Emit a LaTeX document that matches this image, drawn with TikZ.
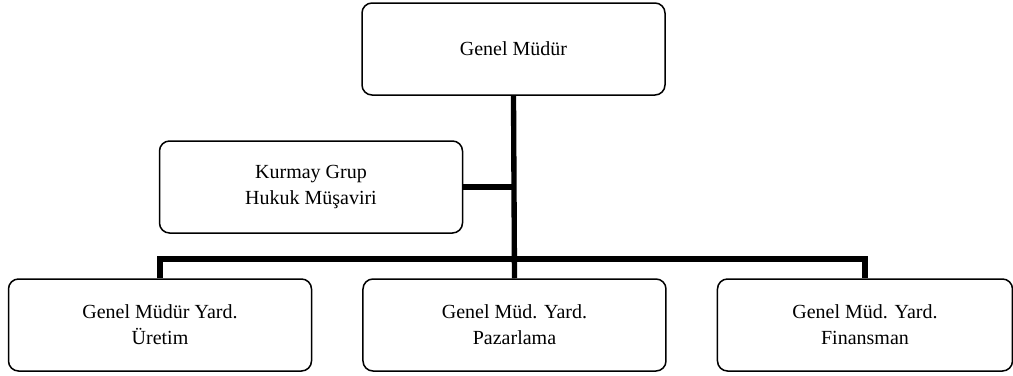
\documentclass[tikz,border=0pt]{standalone}
\usepackage{fontspec}
\setmainfont{Liberation Serif}
\usetikzlibrary{positioning}

\begin{document}
\begin{tikzpicture}[x=0.6pt,y=-0.6pt,node distance=30pt]
  \tikzstyle{unit}=[draw,line width=0.9pt,rounded corners=6pt,
    minimum width=181.8pt,minimum height=55.2pt,align=center,
    font=\fontsize{12}{15.5}\selectfont]
  \tikzstyle{link}=[line width=3.2pt]
  \useasboundingbox (0,0) rectangle (1013,376);
  \node[unit] (gm) at (513.5,49) {Genel Müdür};
  \node[unit] (staff) at (311,187) {Kurmay Grup\\Hukuk Müşaviri};
  \node[unit] (prod) at (160,325) {Genel Müdür Yard.\\Üretim};
  \node[unit,right=of prod] (mkt) {Genel Müd. Yard.\\Pazarlama};
  \node[unit,right=of mkt,minimum width=177pt] (fin) {Genel Müd. Yard.\\Finansman};
  \coordinate (bar) at (513.5,259);
  \draw[link] (gm.south) -- (mkt.north);
  \draw[link] (staff.east) -- (staff.east -| gm.south);
  \draw[link] (prod.north) |- (bar) -| (fin.north);
\end{tikzpicture}
\end{document}
